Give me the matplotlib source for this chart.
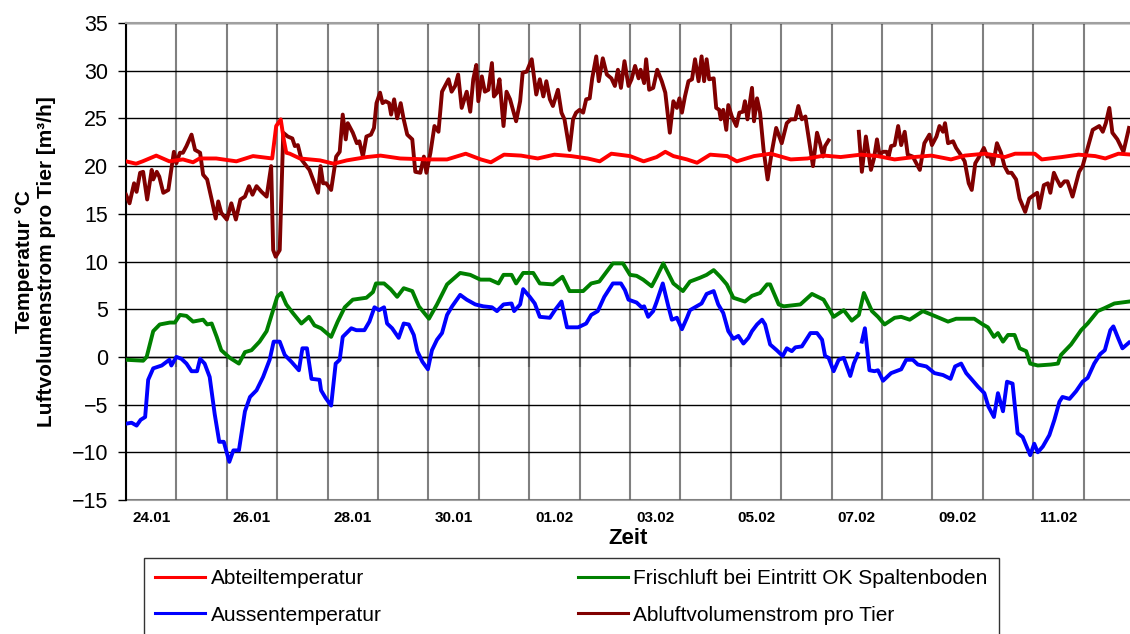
import numpy as np
import matplotlib
matplotlib.use("Agg")
import matplotlib.pyplot as plt
from matplotlib.lines import Line2D

plt.rcParams['font.family'] = ['Liberation Sans', 'DejaVu Sans']

# time in days since 24.01 00:00
date_labels = ["24.01", "26.01", "28.01", "30.01", "01.02", "03.02", "05.02", "07.02", "09.02", "11.02"]
n_days = 20

# Abteiltemperatur (red)
t_abteil = [0.0, 0.2, 0.33, 0.6, 0.86, 1.13, 1.33, 1.46, 1.79, 2.19, 2.52, 2.9, 2.98, 3.07, 3.13, 3.18,
            3.25, 3.45, 3.85, 4.12, 4.38, 4.78, 5.05, 5.44, 5.98, 6.37, 6.74, 7.04, 7.24, 7.5, 7.84, 8.17,
            8.5, 8.83, 9.16, 9.4, 9.63, 10.0, 10.27, 10.53, 10.7, 10.86, 11.13, 11.33, 11.59, 11.93,
            12.12, 12.46, 12.79, 13.19, 13.52, 13.85, 14.18, 14.58, 14.91, 15.25, 15.64, 15.98, 16.37,
            16.64, 17.04, 17.44, 17.64, 18.03, 18.17, 18.57, 18.9, 19.23, 19.43, 19.69, 19.96]
abteil = [20.5, 20.25, 20.5, 21.1, 20.5, 20.7, 20.4, 20.8, 20.8, 20.5, 21.05, 20.8, 24.2, 24.9, 22.8, 21.4,
          21.3, 20.8, 20.6, 20.25, 20.6, 20.95, 21.1, 20.8, 20.7, 20.7, 21.3, 20.7, 20.4, 21.2, 21.1, 20.8,
          21.2, 21.05, 20.8, 20.5, 21.3, 21.05, 20.5, 20.95, 21.5, 21.05, 20.7, 20.35, 21.2, 21.05,
          20.5, 21.05, 21.3, 20.7, 20.8, 21.1, 20.95, 21.2, 21.05, 20.7, 20.95, 21.1, 20.7,
          21.1, 21.3, 20.95, 21.3, 21.3, 20.7, 20.95, 21.2, 21.05, 20.8, 21.3, 21.2]

# Aussentemperatur (blue), nan = Datenluecke
t_aussen = [0.0, 0.11, 0.21, 0.29, 0.38, 0.44, 0.54, 0.71, 0.86, 0.9, 1.0, 1.1, 1.2, 1.3, 1.41, 1.47, 1.56,
            1.66, 1.76, 1.85, 1.94, 2.05, 2.13, 2.24, 2.36, 2.46, 2.59, 2.72, 2.85, 2.93, 3.05, 3.15, 3.28,
            3.43, 3.5, 3.59, 3.68, 3.84, 3.87, 3.96, 4.07, 4.16, 4.24, 4.3, 4.47, 4.57, 4.73, 4.83, 4.93,
            5.02, 5.12, 5.18, 5.28, 5.41, 5.51, 5.61, 5.71, 5.78, 5.88, 5.99, 6.07, 6.17, 6.27, 6.37, 6.47,
            6.63, 6.76, 6.93, 7.09, 7.26, 7.36, 7.49, 7.65, 7.7, 7.82, 7.88, 8.01, 8.11, 8.21, 8.41, 8.51,
            8.64, 8.75, 8.97, 9.13, 9.23, 9.36, 9.49, 9.66, 9.82, 9.9, 9.97, 10.13, 10.23, 10.28, 10.36,
            10.46, 10.53, 10.65, 10.76, 10.83, 10.93, 11.03, 11.13, 11.19, 11.32, 11.42, 11.52, 11.66,
            11.75, 11.85, 11.95, 12.05, 12.15, 12.25, 12.35, 12.42, 12.52, 12.62, 12.68, 12.78, 12.91,
            13.03, 13.11, 13.21, 13.28, 13.41, 13.58, 13.71, 13.81, 13.87, 13.94, 14.04, 14.14, 14.24,
            14.37, 14.44, 14.52, 14.56, 14.6, 14.66, 14.75, 14.85, 14.92, 15.02, 15.18, 15.38, 15.48,
            15.61, 15.71, 15.88, 16.04, 16.21, 16.36, 16.45, 16.57, 16.67, 16.77, 16.9, 17.03, 17.11,
            17.22, 17.3, 17.4, 17.48, 17.59, 17.69, 17.79, 17.94, 18.02, 18.09, 18.19, 18.32, 18.42,
            18.52, 18.58, 18.72, 18.85, 18.98, 19.08, 19.21, 19.33, 19.42, 19.53, 19.59, 19.69, 19.77, 19.9]
aussen = [-7.0, -6.9, -7.2, -6.6, -6.3, -2.4, -1.2, -0.9, -0.3, -0.9, 0.0, -0.2, -0.7, -1.5, -1.5, -0.2, -0.7,
          -2.1, -6.0, -8.9, -8.9, -11.0, -9.8, -9.8, -5.7, -4.2, -3.5, -2.1, -0.3, 1.6, 1.6, 0.2, -0.5,
          -1.4, 0.9, 0.9, -2.3, -2.4, -3.5, -4.3, -5.1, -0.7, -0.3, 2.1, 3.0, 2.8, 2.8, 3.7, 5.2,
          4.9, 5.2, 3.5, 3.0, 2.0, 3.5, 3.4, 2.3, 0.6, -0.5, -1.3, 0.7, 1.8, 2.5, 4.4, 5.3,
          6.5, 6.0, 5.5, 5.3, 5.2, 4.8, 5.5, 5.6, 4.8, 5.5, 7.1, 6.3, 5.6, 4.2, 4.1, 4.9,
          5.8, 3.1, 3.1, 3.5, 4.4, 4.8, 6.3, 7.7, 7.7, 7.0, 6.0, 5.7, 5.2, 5.3, 4.2,
          4.8, 5.8, 7.7, 5.3, 3.9, 4.1, 2.9, 4.1, 4.9, 5.3, 5.6, 6.6, 6.9,
          5.5, 4.6, 2.7, 1.9, 2.2, 1.4, 2.0, 2.7, 3.4, 3.9, 3.4, 1.3, 0.7,
          0.1, 0.9, 0.6, 1.0, 1.1, 2.5, 2.5, 1.8, 0.1, -0.1, -1.5, -0.3, -0.1,
          -2.0, -0.7, 0.3, np.nan, 1.6, 3.0, -1.4, -1.5, -1.4, -2.5, -1.7, -1.3, -0.3,
          -0.3, -0.8, -1.0, -1.7, -1.9, -2.3, -1.0, -0.7, -1.7, -2.3, -3.1, -3.8, -5.2,
          -6.3, -3.8, -5.7, -2.6, -2.8, -8.0, -8.4, -10.3, -9.1, -10.0, -9.4, -8.2, -6.6,
          -4.7, -4.2, -4.4, -3.6, -2.6, -2.2, -0.7, 0.3, 0.7, 2.8, 3.2, 1.9, 0.9, 1.5]

# Frischluft bei Eintritt OK Spaltenboden (green)
t_frisch = [0.0, 0.34, 0.41, 0.54, 0.67, 0.87, 0.97, 1.07, 1.2, 1.33, 1.53, 1.61, 1.7, 1.8, 1.89, 2.06, 2.24,
            2.36, 2.49, 2.65, 2.79, 2.9, 3.0, 3.08, 3.18, 3.31, 3.48, 3.63, 3.74, 3.87, 4.07, 4.2, 4.34,
            4.5, 4.77, 4.9, 4.96, 5.12, 5.25, 5.38, 5.51, 5.68, 5.81, 6.01, 6.17, 6.37, 6.63, 6.83, 7.03,
            7.22, 7.39, 7.49, 7.65, 7.74, 7.88, 8.08, 8.21, 8.47, 8.66, 8.8, 9.07, 9.23, 9.39, 9.49, 9.66,
            9.86, 10.0, 10.13, 10.26, 10.43, 10.53, 10.66, 10.86, 11.05, 11.19, 11.39, 11.52, 11.66,
            11.79, 11.92, 12.05, 12.28, 12.42, 12.58, 12.72, 12.78, 12.95, 13.05, 13.38, 13.61, 13.84,
            14.04, 14.24, 14.4, 14.54, 14.64, 14.8, 14.92, 15.05, 15.25, 15.38, 15.55, 15.81, 16.04,
            16.31, 16.47, 16.83, 17.0, 17.1, 17.22, 17.3, 17.4, 17.5, 17.63, 17.73, 17.86, 17.94, 18.09,
            18.35, 18.49, 18.55, 18.75, 18.95, 19.08, 19.28, 19.41, 19.61, 19.9]
frisch = [-0.3, -0.4, 0.0, 2.7, 3.4, 3.6, 3.6, 4.4, 4.3, 3.7, 3.9, 3.4, 3.5, 2.1, 0.7, -0.1, -0.7,
          0.5, 0.7, 1.6, 2.7, 4.6, 6.3, 6.7, 5.5, 4.6, 3.5, 4.2, 3.3, 3.0, 2.1, 3.7, 5.2,
          6.0, 6.2, 6.8, 7.7, 7.7, 7.1, 6.3, 7.2, 6.9, 5.3, 4.0, 5.5, 7.6, 8.8, 8.6, 8.1,
          8.1, 7.7, 8.6, 8.6, 7.7, 8.8, 8.8, 7.7, 7.6, 8.4, 6.9, 6.9, 7.7, 7.9, 8.6, 9.8,
          9.8, 8.6, 8.5, 8.1, 7.4, 8.4, 9.8, 7.7, 6.9, 7.9, 8.3, 8.6, 9.1,
          8.4, 7.6, 6.2, 5.8, 6.4, 6.7, 7.6, 7.6, 5.5, 5.3, 5.5, 6.6, 6.0,
          4.2, 4.9, 3.8, 4.4, 6.7, 4.8, 4.2, 3.4, 4.1, 4.2, 3.9, 4.8, 4.3,
          3.7, 4.0, 4.0, 3.4, 3.1, 2.1, 2.5, 1.6, 2.3, 2.3, 0.9, 0.6, -0.7, -0.9,
          -0.8, -0.7, 0.2, 1.3, 2.8, 3.5, 4.8, 5.1, 5.6, 5.8]

# Abluftvolumenstrom pro Tier (dark red), nan = Datenluecke
t_abluft = [0.0, 0.07, 0.16, 0.21, 0.28, 0.34, 0.42, 0.51, 0.54, 0.61, 0.66, 0.74, 0.84, 0.95, 1.0, 1.07,
            1.13, 1.2, 1.3, 1.37, 1.47, 1.53, 1.61, 1.7, 1.78, 1.83, 1.89, 2.0, 2.09, 2.18, 2.27, 2.36,
            2.44, 2.51, 2.59, 2.69, 2.79, 2.88, 2.92, 2.97, 3.05, 3.12, 3.21, 3.3, 3.35, 3.41, 3.48,
            3.58, 3.64, 3.74, 3.81, 3.86, 3.91, 3.97, 4.07, 4.17, 4.24, 4.3, 4.36, 4.4, 4.5, 4.58,
            4.63, 4.7, 4.77, 4.86, 4.92, 4.97, 5.04, 5.09, 5.15, 5.22, 5.26, 5.32, 5.38, 5.45, 5.51,
            5.58, 5.68, 5.74, 5.84, 5.91, 5.96, 6.04, 6.12, 6.2, 6.27, 6.4, 6.46, 6.53, 6.59, 6.66,
            6.76, 6.83, 6.89, 6.95, 6.99, 7.06, 7.12, 7.19, 7.26, 7.3, 7.36, 7.41, 7.49, 7.55, 7.62,
            7.74, 7.82, 7.87, 7.95, 8.05, 8.14, 8.21, 8.28, 8.34, 8.41, 8.47, 8.57, 8.64, 8.7, 8.8,
            8.87, 8.93, 9.0, 9.07, 9.13, 9.2, 9.25, 9.33, 9.38, 9.46, 9.54, 9.63, 9.7, 9.76, 9.82,
            9.89, 9.97, 10.03, 10.1, 10.17, 10.21, 10.28, 10.32, 10.38, 10.46, 10.54, 10.63, 10.7,
            10.79, 10.86, 10.93, 10.98, 11.03, 11.09, 11.16, 11.23, 11.29, 11.36, 11.42, 11.47, 11.52,
            11.57, 11.66, 11.71, 11.77, 11.8, 11.85, 11.91, 11.95, 12.02, 12.11, 12.17, 12.24, 12.28,
            12.33, 12.42, 12.46, 12.52, 12.58, 12.65, 12.73, 12.81, 12.9, 13.01, 13.11, 13.19, 13.28,
            13.34, 13.41, 13.48, 13.56, 13.63, 13.71, 13.77, 13.83, 13.87, 13.94, 14.2, 14.54, 14.6,
            14.68, 14.74, 14.78, 14.84, 14.9, 14.95, 15.02, 15.09, 15.13, 15.18, 15.25, 15.32, 15.38,
            15.45, 15.51, 15.61, 15.75, 15.84, 15.94, 15.99, 16.08, 16.14, 16.21, 16.25, 16.31, 16.41,
            16.47, 16.56, 16.64, 16.72, 16.78, 16.85, 16.93, 17.02, 17.09, 17.15, 17.2, 17.28, 17.36,
            17.43, 17.5, 17.57, 17.66, 17.73, 17.84, 17.92, 18.02, 18.08, 18.12, 18.21, 18.29, 18.34,
            18.41, 18.47, 18.54, 18.62, 18.68, 18.78, 18.85, 18.91, 18.98, 19.08, 19.18, 19.31, 19.38,
            19.44, 19.51, 19.57, 19.67, 19.79, 19.9]
abluft = [17.0, 16.1, 18.2, 17.3, 19.3, 19.4, 16.5, 19.6, 18.6, 19.4, 18.9, 17.2, 17.5, 21.5, 20.3, 21.4,
          21.4, 22.1, 23.3, 21.7, 21.4, 19.1, 18.6, 16.5, 14.5, 16.3, 15.1, 14.4, 16.1, 14.4, 16.5, 16.8,
          17.9, 17.0, 17.9, 17.3, 16.8, 20.0, 11.2, 10.5, 11.2, 23.5, 23.1, 22.9, 22.1, 22.2, 20.7,
          20.0, 19.6, 18.2, 17.2, 20.0, 18.2, 18.2, 17.5, 21.0, 21.5, 25.4, 22.8, 24.5, 23.5, 22.4,
          22.6, 21.0, 23.1, 23.3, 24.0, 26.6, 27.7, 26.6, 26.8, 26.6, 25.4, 27.0, 25.0, 26.6, 24.9,
          23.3, 22.8, 19.4, 19.3, 21.0, 19.3, 21.4, 24.2, 23.6, 27.8, 29.1, 27.8, 28.4, 29.6, 26.1,
          27.8, 25.7, 29.1, 30.6, 26.8, 29.4, 27.8, 28.0, 30.8, 27.3, 27.7, 29.1, 24.2, 27.8, 27.0,
          24.7, 26.8, 29.8, 29.9, 31.2, 27.5, 29.1, 27.3, 28.9, 27.0, 26.3, 28.0, 25.6, 24.9, 21.7,
          24.9, 25.6, 25.9, 25.6, 27.0, 27.1, 29.2, 31.5, 28.9, 31.3, 29.6, 29.2, 28.4, 30.1, 28.2,
          31.0, 28.4, 29.1, 30.5, 29.2, 30.1, 28.7, 31.2, 28.0, 28.2, 30.1, 28.9, 27.7,
          23.5, 26.8, 26.1, 27.1, 25.6, 27.3, 28.9, 29.1, 31.2, 28.9, 31.5, 28.9, 31.2,
          29.1, 29.2, 26.1, 25.9, 24.9, 25.9, 23.8, 26.4, 25.2, 24.2, 25.6, 25.7, 26.8,
          24.9, 28.2, 24.7, 27.1, 25.6, 21.7, 18.6, 21.4, 24.0, 22.4, 24.5, 24.9, 24.9,
          26.3, 24.9, 25.2, 22.4, 20.0, 23.5, 22.4, 21.0, 22.1, 22.7, np.nan, 23.6, 19.4,
          23.1, 21.0, 19.6, 20.8, 22.8, 21.2, 21.5, 21.5, 21.0, 22.1, 22.2, 24.2, 22.2,
          23.6, 21.2, 21.0, 19.6, 22.4, 23.3, 22.2, 23.1, 24.2, 23.6, 24.5, 22.4, 22.6,
          21.9, 21.2, 20.5, 18.2, 17.5, 20.3, 21.0, 21.9, 21.0, 21.0, 20.1, 22.4, 21.4,
          20.0, 19.3, 19.3, 18.6, 16.6, 15.2, 16.6, 17.0, 17.2, 15.6, 18.0, 18.2, 17.2,
          19.3, 18.6, 17.9, 18.4, 18.4, 16.8, 18.2, 19.4, 20.0, 21.9, 23.8, 24.2, 23.6,
          24.5, 26.1, 23.5, 22.8, 21.5, 24.0]

fig = plt.figure(figsize=(11.3, 6.34), dpi=100)
ax = fig.add_axes([126 / 1130, 1 - 500 / 634, 1 - 126 / 1130, 477 / 634])

lw = 2.8
ax.plot(t_abluft, abluft, color="#800000", lw=lw, zorder=3)
ax.plot(t_abteil, abteil, color="#ff0000", lw=lw, zorder=4)
ax.plot(t_frisch, frisch, color="#008000", lw=lw, zorder=3)
ax.plot(t_aussen, aussen, color="#0000ff", lw=lw, zorder=3)

ax.set_xlim(0, 19.92)
ax.set_ylim(-15, 35)
ax.set_yticks(np.arange(-15, 36, 5))
ax.tick_params(axis="y", labelsize=15.5, direction="out", length=6, width=1, pad=7)

# day grid + small ticks on the zero line
ax.set_xticks(np.arange(0, n_days))
ax.set_xticklabels([])
ax.spines["bottom"].set_position(("data", 0))
ax.spines["bottom"].set_color("black")
ax.spines["bottom"].set_linewidth(1)
ax.tick_params(axis="x", direction="out", length=7, width=1.5, color="#606060")

ax.set_axisbelow(True)
ax.grid(axis="x", color="#808080", lw=1.5)
ax.grid(axis="y", color="black", lw=1)
ax.spines["left"].set_linewidth(1.5)
ax.spines["top"].set_color("#a0a0a0")
ax.spines["top"].set_linewidth(1.5)
ax.spines["right"].set_visible(False)

sec = ax.secondary_xaxis("bottom")
sec.set_xticks(np.arange(len(date_labels)) * 2 + 0.5)
sec.set_xticklabels(date_labels, fontsize=11, fontweight="bold")
sec.tick_params(length=0, pad=8)
sec.spines["bottom"].set_color("#a0a0a0")
sec.spines["bottom"].set_linewidth(1.5)
sec.set_xlabel("Zeit", fontsize=16, fontweight="bold", labelpad=2)

ax.set_ylabel("Temperatur °C\nLuftvolumenstrom pro Tier [m³/h]", fontsize=15, fontweight="bold",
              linespacing=1.2)
ax.yaxis.set_label_coords(-0.07, 0.5)

handles = [Line2D([], [], color="#ff0000", lw=2.2), Line2D([], [], color="#0000ff", lw=2.2),
           Line2D([], [], color="#008000", lw=2.2), Line2D([], [], color="#800000", lw=2.2)]
labels = ["Abteiltemperatur", "Aussentemperatur",
          "Frischluft bei Eintritt OK Spaltenboden", "Abluftvolumenstrom pro Tier"]
leg = fig.legend(handles, labels, ncol=2, loc="upper left", mode="expand",
                 bbox_to_anchor=(144 / 1130, 1 - 558 / 634 - 0.01, (999 - 144) / 1130, 0.01),
                 borderaxespad=0, fontsize=15, frameon=True, fancybox=False,
                 handlelength=2.4, handletextpad=0.25, labelspacing=0.82, borderpad=0.55)
leg.get_frame().set_edgecolor("black")
leg.get_frame().set_linewidth(1)

fig.savefig("out.png", dpi=100)
